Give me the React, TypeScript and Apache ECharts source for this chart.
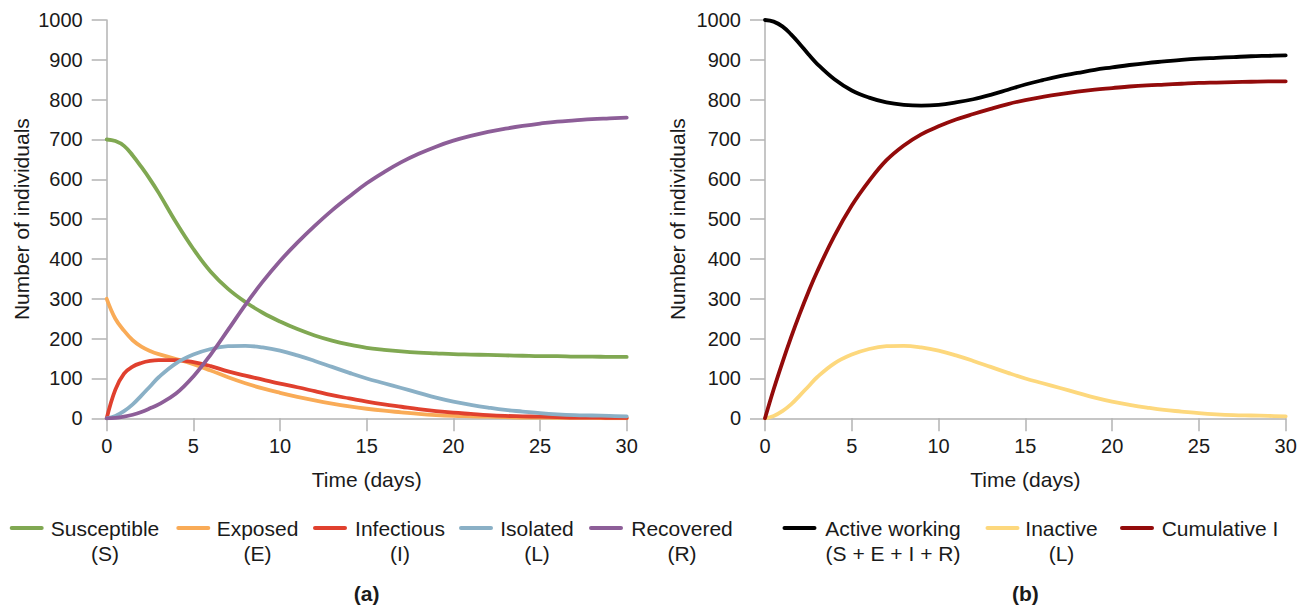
import React, { useEffect, useRef } from "react";
import * as echarts from "echarts";

const T = [0, 0.5, 1, 1.5, 2, 2.5, 3, 4, 5, 6, 7, 8, 9, 10, 11, 12, 13, 14, 15, 16, 17, 18, 19, 20, 21, 22, 23, 24, 25, 26, 27, 28, 29, 30];

const susceptible = [700, 696, 684, 660, 631, 600, 566, 492, 425, 368, 325, 292, 265, 243, 224, 208, 195, 185, 177, 172, 168, 165, 163, 161, 160, 159, 158, 157, 156, 156, 155, 155, 154, 154];
const exposed = [300, 250, 220, 196, 180, 169, 161, 149, 136, 120, 103, 88, 75, 64, 54, 45, 37, 30, 24, 19, 15, 11, 8, 6, 5, 4, 3, 2, 2, 1, 1, 1, 0, 0];
const infectious = [0, 72, 112, 130, 139, 144, 146, 146, 141, 131, 118, 107, 97, 87, 78, 68, 58, 50, 42, 35, 29, 23, 18, 14, 11, 8, 6, 5, 4, 3, 2, 2, 1, 1];
const isolated = [0, 6, 18, 35, 57, 80, 103, 138, 160, 174, 181, 182, 178, 170, 158, 144, 129, 114, 100, 88, 76, 64, 52, 42, 34, 27, 21, 17, 13, 10, 8, 7, 6, 5];
const recovered = [0, 1, 4, 9, 16, 25, 35, 62, 105, 160, 222, 285, 343, 395, 441, 483, 522, 557, 590, 618, 643, 664, 682, 697, 709, 719, 727, 734, 740, 745, 748, 751, 753, 755];

const activeWorking = [1000, 996, 984, 964, 940, 914, 890, 851, 823, 805, 793, 787, 785, 787, 793, 801, 812, 825, 838, 849, 859, 867, 875, 881, 887, 892, 896, 900, 903, 905, 907, 909, 910, 911];
const inactive = isolated;
const cumulativeI = [0, 73, 140, 203, 262, 317, 368, 458, 534, 596, 648, 685, 713, 733, 750, 764, 777, 789, 799, 807, 814, 820, 825, 829, 833, 836, 838, 840, 842, 843, 844, 845, 846, 846];

const X_TICKS = { min: 0, max: 30, interval: 5 };
const Y_TICKS = { min: 0, max: 1000, interval: 100 };

const LEFT_NAMES = ["Susceptible\n(S)", "Exposed\n(E)", "Infectious\n(I)", "Isolated\n(L)", "Recovered\n(R)"];
const RIGHT_NAMES = ["Active working\n(S + E + I + R)", "Inactive\n(L)", "Cumulative I"];

const COLORS = {
  S: "#80a852",
  E: "#f9ab57",
  I: "#e0402e",
  L: "#8ab0c6",
  R: "#8d5e98",
  A: "#000000",
  IN: "#fdd87d",
  C: "#930b0b",
};

const FONT = '"Liberation Sans", Arial, Helvetica, sans-serif';

function pairs(vals: number[]) {
  return T.map((t, i) => [t, vals[i]]);
}

export default function App() {
  const ref = useRef<HTMLDivElement>(null);
  useEffect(() => {
    if (!ref.current) return;
    const chart = echarts.init(ref.current, null, { renderer: "svg" });
    const axisColor = "#b3b3b3";
    const mkX = (gridIndex: number) => ({
      type: "value",
      gridIndex,
      ...X_TICKS,
      name: "Time (days)",
      nameLocation: "middle",
      nameGap: 51,
      nameTextStyle: { fontFamily: FONT, fontSize: 21, color: "#1a1a1a" },
      axisLine: { show: true, lineStyle: { color: axisColor, width: 1.5 } },
      axisTick: { show: true, length: 13, lineStyle: { color: axisColor, width: 1.5 } },
      axisLabel: { fontFamily: FONT, fontSize: 20, color: "#1a1a1a", margin: 18 },
      splitLine: { show: false },
    });
    const mkY = (gridIndex: number, gap: number) => ({
      type: "value",
      gridIndex,
      ...Y_TICKS,
      name: "Number of individuals",
      nameLocation: "middle",
      nameGap: gap,
      nameTextStyle: { fontFamily: FONT, fontSize: 21, color: "#1a1a1a" },
      axisLine: { show: true, lineStyle: { color: axisColor, width: 1.5 } },
      axisTick: { show: true, length: 15, lineStyle: { color: axisColor, width: 1.5 } },
      axisLabel: {
        fontFamily: FONT,
        fontSize: 20,
        color: "#1a1a1a",
        margin: 24,
        formatter: (v: number) => String(v),
      },
      splitLine: { show: false },
    });
    const line = (name: string, vals: number[], color: string, idx: number) => ({
      type: "line",
      name,
      xAxisIndex: idx,
      yAxisIndex: idx,
      data: pairs(vals),
      smooth: 0.4,
      showSymbol: false,
      symbol: "none",
      lineStyle: { color, width: 3.8, cap: "round" },
      itemStyle: { color },
      z: 3,
    });

    const legendItems = [
      { name: LEFT_NAMES[0], color: COLORS.S, x1: 11.7, cx: 105 },
      { name: LEFT_NAMES[1], color: COLORS.E, x1: 178.3, cx: 257.5 },
      { name: LEFT_NAMES[2], color: COLORS.I, x1: 315, cx: 400 },
      { name: LEFT_NAMES[3], color: COLORS.L, x1: 461, cx: 537 },
      { name: LEFT_NAMES[4], color: COLORS.R, x1: 591, cx: 682 },
      { name: RIGHT_NAMES[0], color: COLORS.A, x1: 784.5, cx: 893 },
      { name: RIGHT_NAMES[1], color: COLORS.IN, x1: 987.5, cx: 1061.5 },
      { name: RIGHT_NAMES[2], color: COLORS.C, x1: 1122, cx: 1220 },
    ];
    const legendY = 528;
    const graphics: any[] = [];
    legendItems.forEach((it) => {
      graphics.push({
        type: "line",
        shape: { x1: it.x1, y1: legendY, x2: it.x1 + 30, y2: legendY },
        style: { stroke: it.color, lineWidth: 4, lineCap: "round" },
      });
      graphics.push({
        type: "text",
        x: it.cx,
        y: legendY - 12.5,
        style: {
          text: it.name,
          fontFamily: FONT,
          fontSize: 21,
          lineHeight: 25,
          align: "center",
          verticalAlign: "top",
          fill: "#1a1a1a",
        },
      });
    });
    graphics.push({
      type: "text",
      x: 366.7,
      y: 593,
      style: { text: "(a)", fontFamily: FONT, fontSize: 21, fontWeight: "bold", align: "center", verticalAlign: "middle", fill: "#1a1a1a" },
    });
    graphics.push({
      type: "text",
      x: 1025.3,
      y: 593,
      style: { text: "(b)", fontFamily: FONT, fontSize: 21, fontWeight: "bold", align: "center", verticalAlign: "middle", fill: "#1a1a1a" },
    });

    chart.setOption({
      animation: false,
      backgroundColor: "#ffffff",
      grid: [
        { left: 106.7, top: 20, width: 520, height: 398.3 },
        { left: 765, top: 20, width: 520.7, height: 398.3 },
      ],
      xAxis: [mkX(0), mkX(1)],
      yAxis: [mkY(0, 75), mkY(1, 77)],
      series: [
        line("Susceptible (S)", susceptible, COLORS.S, 0),
        line("Exposed (E)", exposed, COLORS.E, 0),
        line("Infectious (I)", infectious, COLORS.I, 0),
        line("Isolated (L)", isolated, COLORS.L, 0),
        line("Recovered (R)", recovered, COLORS.R, 0),
        line("Active working (S + E + I + R)", activeWorking, COLORS.A, 1),
        line("Inactive (L)", inactive, COLORS.IN, 1),
        line("Cumulative I", cumulativeI, COLORS.C, 1),
      ],
      graphic: graphics,
    });
    return () => chart.dispose();
  }, []);
  return (
    <div
      ref={ref}
      style={{ position: "fixed", left: 0, top: 0, width: 1305, height: 607, background: "#fff" }}
    />
  );
}
